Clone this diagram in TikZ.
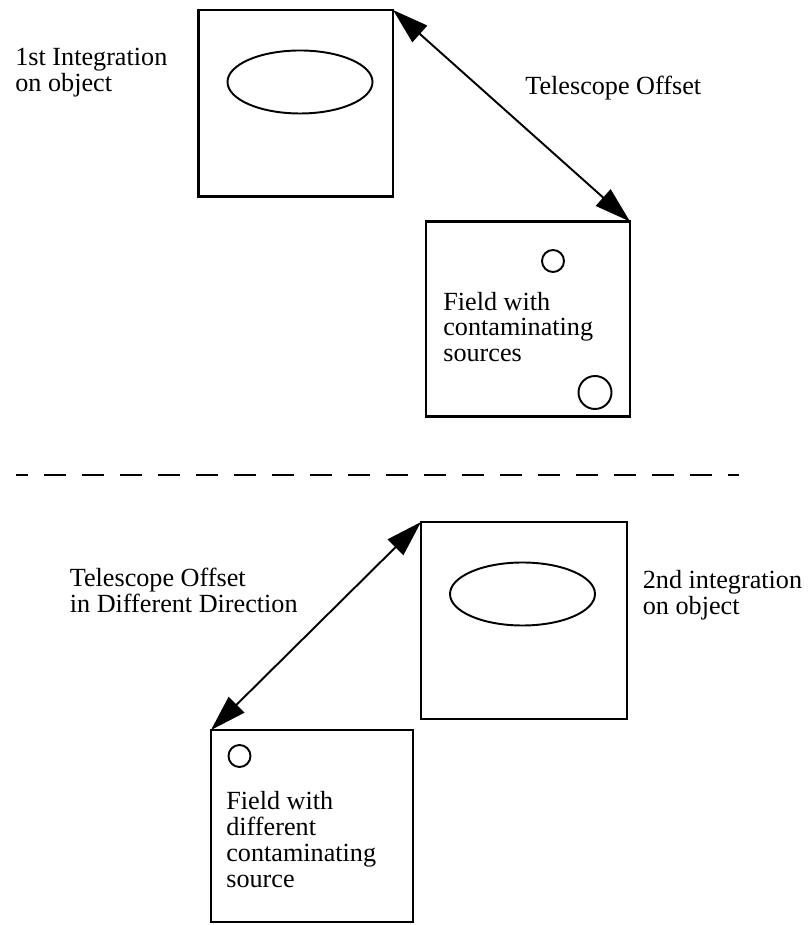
\documentclass[tikz,border=0pt]{standalone}
\usepackage{fontspec}
\setmainfont{Liberation Serif}
\usetikzlibrary{arrows.meta, positioning, shapes.geometric}

\begin{document}
\begin{tikzpicture}[
    field/.style={rectangle, draw=black, line width=1.5pt, outer sep=0pt, inner sep=0pt},
    source/.style={draw=black, line width=1.1pt},
    offset/.style={{Triangle[length=0.72cm, width=0.44cm]}-{Triangle[length=0.72cm, width=0.44cm]}, line width=1.1pt},
    note/.style={font=\fontsize{14.9}{14.7}\selectfont, align=left, anchor=base west, inner sep=0pt},
    divider/.style={line width=1.7pt, dash pattern=on 0.44cm off 0.32cm, dash phase=0.2cm}
]
\useasboundingbox (0, 0) rectangle (16.22, 18.5);

% First integration
\node[field, minimum width=3.89cm, minimum height=3.73cm] (int1) at (5.915, 16.435) {};
\draw[source] (6.0, 16.86) ellipse (1.45 and 0.63);
\node[note] (int1txt) at (0.3, 16.673) {1st Integration\\on object};

% Offset field
\node[field, minimum width=4.08cm, minimum height=3.9cm] (fld1) at (10.56, 12.12) {};
\draw[source] (11.06, 13.28) circle (0.22);
\draw[source] (11.9, 10.65) circle (0.33);
\node[note] (fld1txt) at (8.86, 11.266) {Field with\\contaminating\\sources};

% Telescope offset
\draw[offset] (int1.north east) -- (fld1.north east);
\node[note] (off1) at (10.5, 16.61) {Telescope Offset};

% Divider
\draw[divider] (0.32, 9.0) -- (14.78, 9.0);

% Second integration
\node[field, minimum width=4.12cm, minimum height=3.94cm] (int2) at (10.48, 6.09) {};
\draw[source] (10.45, 6.62) ellipse (1.45 and 0.63);
\node[note] (int2txt) at (12.85, 6.213) {2nd integration\\on object};

% Field in other direction
\node[field, minimum width=4.04cm, minimum height=3.84cm] (fld2) at (6.24, 1.98) {};
\draw[source] (4.79, 3.38) circle (0.22);
\node[note] (fld2txt) at (4.52, 0.759) {Field with\\different\\contaminating\\source};

% Offset in different direction
\draw[offset] (fld2.north west) -- (int2.north west);
\node[note] (off2) at (1.39, 6.253) {Telescope Offset\\in Different Direction};

\end{tikzpicture}
\end{document}
